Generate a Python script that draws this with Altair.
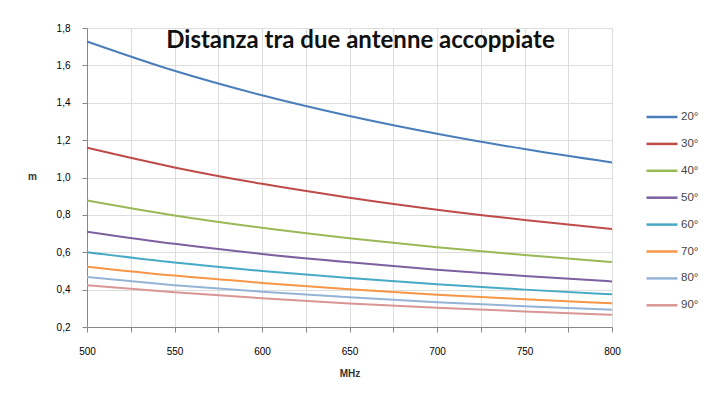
import altair as alt
import pandas as pd

# Frequencies (MHz) and coupled-antenna spacing (m) for each beam angle
freq_mhz = [500, 550, 600, 650, 700, 750, 800]
angles = ["20°", "30°", "40°", "50°", "60°", "70°", "80°", "90°"]
d20 = [1.728, 1.571, 1.440, 1.329, 1.234, 1.152, 1.080]
d30 = [1.159, 1.054, 0.966, 0.892, 0.828, 0.773, 0.725]
d40 = [0.877, 0.797, 0.731, 0.675, 0.627, 0.585, 0.548]
d50 = [0.710, 0.645, 0.591, 0.546, 0.507, 0.473, 0.444]
d60 = [0.600, 0.545, 0.500, 0.462, 0.429, 0.400, 0.375]
d70 = [0.523, 0.475, 0.436, 0.402, 0.373, 0.349, 0.327]
d80 = [0.467, 0.424, 0.389, 0.359, 0.333, 0.311, 0.292]
d90 = [0.424, 0.386, 0.354, 0.326, 0.303, 0.283, 0.265]
series = [d20, d30, d40, d50, d60, d70, d80, d90]
colors = ["#4A7EBB", "#BE4B48", "#98B954", "#7D60A0", "#46AAC5", "#F79646", "#95B3D7", "#D99694"]

rows = []
for angle, values in zip(angles, series):
    for f, d in zip(freq_mhz, values):
        rows.append({"MHz": f, "m": d, "Angolo": angle})
df = pd.DataFrame(rows)

x_ticks = list(range(500, 801, 25))
y_ticks = [0.2, 0.4, 0.6, 0.8, 1.0, 1.2, 1.4, 1.6, 1.8]

chart = alt.Chart(df).mark_line(interpolate="monotone", strokeWidth=2).encode(
    x=alt.X(
        "MHz:Q",
        scale=alt.Scale(domain=[500, 800], nice=False, zero=False),
        axis=alt.Axis(
            values=x_ticks,
            labelExpr="datum.value % 50 == 0 ? datum.value : ''",
            labelFlush=False,
            title="MHz",
            titleFontSize=10,
            titleFontWeight="bold",
            titleColor="#333333",
            titlePadding=12,
            labelPadding=14,
        ),
    ),
    y=alt.Y(
        "m:Q",
        scale=alt.Scale(domain=[0.2, 1.8], nice=False, zero=False),
        axis=alt.Axis(
            values=y_ticks,
            labelExpr="replace(format(datum.value, '.1f'), '.', ',')",
            title="m",
            titleAngle=0,
            titleFontSize=10,
            titleFontWeight="bold",
            titleColor="#333333",
            titleX=-55,
            titleY=153,
            labelPadding=12,
        ),
    ),
    color=alt.Color(
        "Angolo:N",
        sort=angles,
        scale=alt.Scale(domain=angles, range=colors),
        legend=alt.Legend(
            title=None,
            orient="none",
            legendX=558,
            legendY=72,
            symbolType="stroke",
            symbolSize=961,
            symbolStrokeWidth=2.5,
            rowPadding=3.9,
            labelFontSize=11.5,
            labelColor="#444444",
            labelOffset=2,
        ),
    ),
).properties(
    width=525,
    height=299,
    title=alt.TitleParams(
        "Distanza tra due antenne accoppiate",
        font="Lato",
        fontSize=24,
        fontWeight="bold",
        color="#111111",
        anchor="middle",
        dx=11,
        dy=34,
    ),
    autosize=alt.AutoSizeParams(type="none"),
    padding={"left": 87, "top": 28, "right": 96, "bottom": 73},
).configure_axis(
    labelFont="Open Sans",
    titleFont="Open Sans",
    labelFontSize=11.5,
    labelColor="#444444",
    gridColor="#9e9e9e",
    gridWidth=1,
    domainColor="#888888",
    tickColor="#888888",
    tickSize=4,
).configure_legend(
    labelFont="Open Sans",
).configure_view(
    stroke="#9e9e9e",
    strokeWidth=1,
).configure(background="white")

chart.save("out.html", embed_options={"renderer": "svg", "actions": False})
